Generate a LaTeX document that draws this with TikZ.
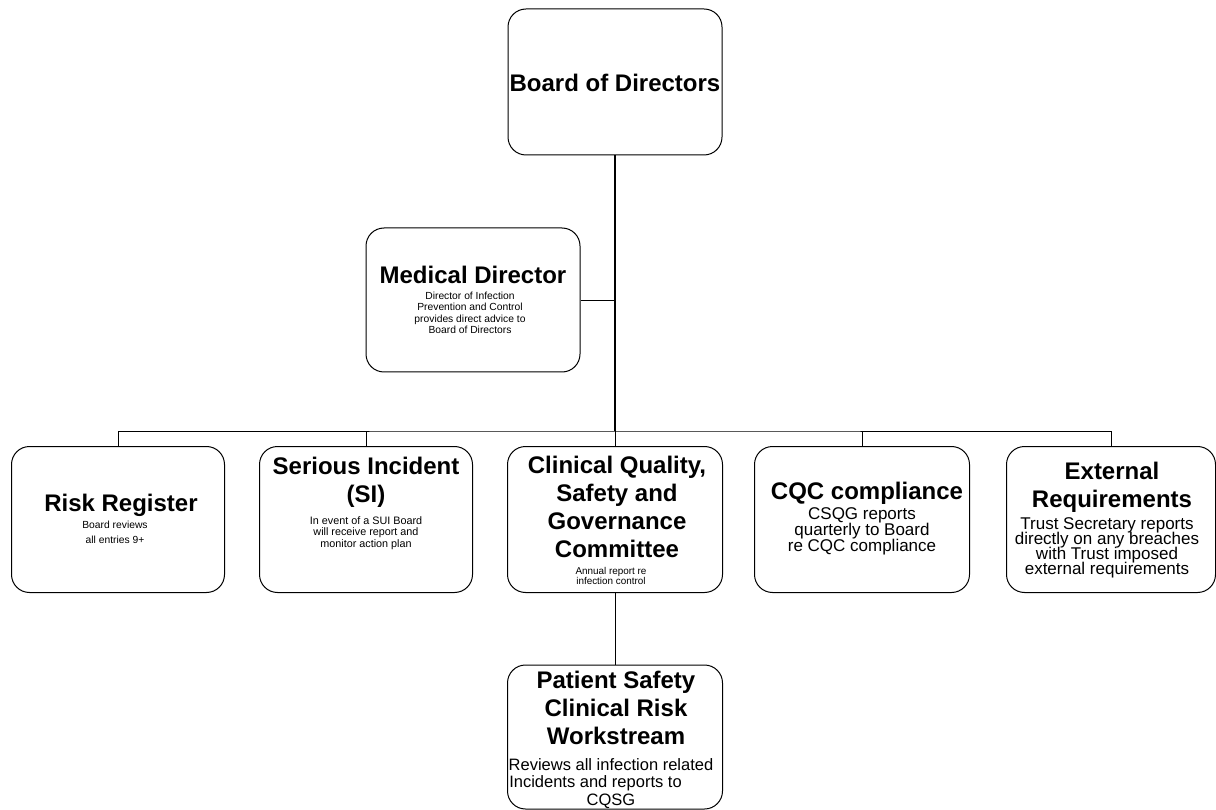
\documentclass[tikz,border=0pt]{standalone}
\usepackage{fontspec}
\setmainfont{Liberation Sans}
\usetikzlibrary{positioning}

% font of the box titles and of the small notes under them
\newcommand{\ttlfont}{\bfseries\fontsize{24}{28}\selectfont\lineskiplimit=-50pt}
\newcommand{\notefont}[2]{\fontsize{#1}{#2}\selectfont\lineskiplimit=-50pt}

\begin{document}
\begin{tikzpicture}[x=1pt,y=-1pt
	,box/.style={draw,line width=1pt,rounded corners=18pt
	,minimum width=213pt,minimum height=146pt,inner sep=0pt}
	,ttl/.style={font=\ttlfont,align=center,inner sep=0pt}
	,note/.style={align=center,inner sep=0pt}
	,link/.style={line width=0.9pt}
	,stem/.style={line width=2pt}]

  \useasboundingbox (0,0) rectangle (1216,810);

  % boxes
  \node[box,minimum width=214pt] (board) at (615,82) {};
  \node[box,minimum width=214pt,minimum height=144pt] (med) at (473,300) {};
  \node[box] (risk) at (118,519.5) {};
  \node[box] (si)   at (366,519.5) {};
  \node[box,minimum width=215pt] (cqsg) at (615,519.5) {};
  \node[box,minimum width=215pt] (cqc)  at (862,519.5) {};
  \node[box,minimum width=209pt] (ext)  at (1111,519.5) {};
  \node[box,minimum width=215pt,minimum height=144pt] (pat) at (615,737) {};

  % titles
  \node[ttl] (boardT) at (615,83) {Board of Directors};
  \node[ttl] (medT)   at (473,275) {Medical Director};
  \node[ttl] (riskT)  at (121,505) {Risk Register};
  \node[ttl] (siT)    at (366,482.5) {Serious Incident\\(SI)};
  \node[ttl] (cqsgT)  at (617,507) {Clinical Quality,\\Safety and\\Governance\\Committee};
  \node[ttl] (cqcT)   at (867,493) {CQC compliance};
  \node[ttl] (extT)   at (1112,487.5) {External\\Requirements};
  \node[ttl] (patT)   at (616,707.5) {Patient Safety\\Clinical Risk\\Workstream};

  % notes
  \node[note,font=\notefont{10.3}{11.5}] (medN) at (470,313)
    {Director of Infection\\Prevention and Control\\provides direct advice to\\Board of Directors};
  \node[note,font=\notefont{10.3}{15}] (riskN) at (115,532.5)
    {Board reviews\\all entries 9+};
  \node[note,font=\notefont{10.8}{11.5}] (siN) at (366,533)
    {In event of a SUI Board\\will receive report and\\monitor action plan};
  \node[note,font=\notefont{9.9}{10.5}] (cqsgN) at (611,576)
    {Annual report re\\infection control};
  \node[note,font=\notefont{17}{16}] (cqcN) at (862,531)
    {CSQG reports\\quarterly to Board\\re CQC compliance};
  \node[note,font=\notefont{17}{15}] (extN) at (1107,547.5)
    {Trust Secretary reports\\directly on any breaches\\with Trust imposed\\external requirements};
  \node[note,font=\notefont{16.5}{17.5}] (patN) at (611,783.5)
    {Reviews all infection related\\Incidents and reports to\makebox[31pt]{}\\CQSG};

  % connectors
  \coordinate (bus) at (615,431);
  \draw[stem] (board.south) -- (bus);
  \draw[link] (med.east) -- (med.east -| bus);
  \draw[link] (risk.north) |- (bus) -| (ext.north);
  \draw[link] (si.north) -- (si.north |- bus);
  \draw[link] (cqsg.north) -- (bus);
  \draw[link] (cqc.north) -- (cqc.north |- bus);
  \draw[link] (cqsg.south) -- (pat.north);

\end{tikzpicture}
\end{document}
